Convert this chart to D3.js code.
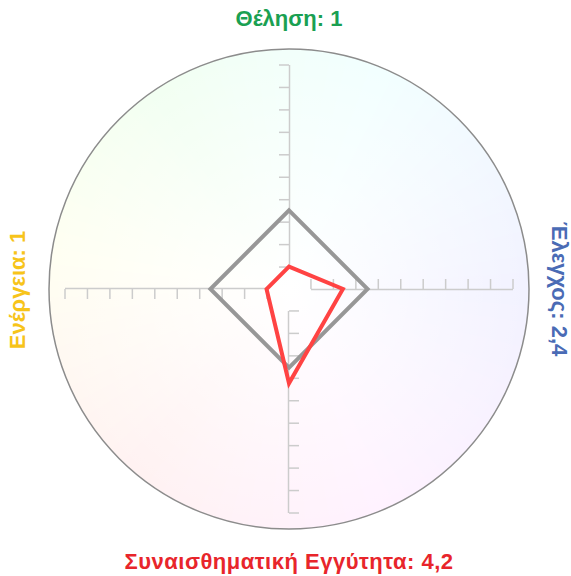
<!DOCTYPE html>
<html>
<head>
<meta charset="utf-8">
<script src="https://cdn.jsdelivr.net/npm/d3@7"></script>
<style>
	html, body { margin: 0; padding: 0; background: #fff; }
	#outer { width: 571px; height: 576px; }
	text { font-family: 'Liberation Sans', Arial, Helvetica, sans-serif; font-weight: bold; }
</style>
</head>
<body>
<div id="outer"></div>
<script>
////////// DATA //////////
const dimensions = ['Θέληση', 'Έλεγχος', 'Συναισθηματική Εγγύτητα', 'Ενέργεια'];
const scores = [1, 2.4, 4.2, 1];
const referenceScores = [3.5, 3.5, 3.5, 3.5];
const tickValues = [1, 2, 3, 4, 5, 6, 7, 8, 9, 10];
const scaleDomain = [0, 10];

  // STYLES //
const labelColors = ['#1aa052', '#4a6bb5', '#e8252b', '#f7c41a'];
const hueStops = [160, 240, 320, 410, 520];	// hue at top, right, bottom, left, top again

////////// SIZING //////////
const width = 571, height = 576;
const cx = 289, cy = 289;
const circleRadius = 240;
const axisRadius = 224.5;

const rScale = d3.scaleLinear().domain(scaleDomain).range([0, axisRadius]);
const fmt = v => String(v).replace('.', ',');

////////// RENDER //////////
const svg = d3.select('#outer').append('svg')
	.attr('width', width)
	.attr('height', height);

const defs = svg.append('defs');
const fade = defs.append('radialGradient').attr('id', 'centerFade');
fade.append('stop').attr('offset', '0%').attr('stop-color', '#fff').attr('stop-opacity', 1);
fade.append('stop').attr('offset', '100%').attr('stop-color', '#fff').attr('stop-opacity', 0);

const centered = svg.append('g').attr('transform', `translate(${cx},${cy})`);

// BACKGROUND WHEEL //
const hueScale = d3.scaleLinear().domain([0, 90, 180, 270, 360]).range(hueStops);
const steps = d3.range(0, 360, 2);
const wedge = d3.arc().innerRadius(0).outerRadius(circleRadius);
centered.append('g').attr('class', 'wheel')
	.selectAll('path')
	.data(steps)
	.join('path')
	.attr('d', a => wedge({ startAngle: a * Math.PI / 180, endAngle: (a + 2.4) * Math.PI / 180 }))
	.attr('fill', a => d3.hsl(hueScale(a + 1) % 360, 1, 0.974).formatHex());

centered.append('circle')
	.attr('r', circleRadius)
	.attr('fill', 'url(#centerFade)');

centered.append('circle')
	.attr('r', circleRadius)
	.attr('fill', 'none')
	.attr('stroke', '#8c8c8c')
	.attr('stroke-width', 1.5);

// AXES //
const axisScale = d3.scaleLinear().domain([1, 10]).range([-rScale(1), -rScale(10)]);
dimensions.forEach((dim, i) => {
	const g = centered.append('g')
		.attr('class', 'axis')
		.attr('transform', `rotate(${i * 90})`)
		.call(d3.axisLeft(axisScale).tickValues(tickValues).tickSize(10).tickSizeOuter(0).tickFormat(''));
	g.selectAll('path, line').attr('stroke', '#cccccc').attr('stroke-width', 1.5);
});

// POLYGONS //
const radial = d3.lineRadial()
	.angle((d, i) => i * Math.PI / 2)
	.radius(d => rScale(d))
	.curve(d3.curveLinearClosed);

centered.append('path')
	.attr('d', radial(referenceScores))
	.attr('fill', 'none')
	.attr('stroke', '#979797')
	.attr('stroke-width', 4);

centered.append('path')
	.attr('d', radial(scores))
	.attr('fill', 'none')
	.attr('stroke', '#ff4343')
	.attr('stroke-width', 4);

// LABELS //
const labelPos = [
	{ x: cx, y: 26, rot: 0, spacing: 0 },
	{ x: 552, y: cy, rot: 90, spacing: 0 },
	{ x: cx, y: 569, rot: 0, spacing: 0.5 },
	{ x: 25, y: cy + 1, rot: -90, spacing: 0 }
];
svg.append('g').attr('class', 'labels')
	.selectAll('text')
	.data(dimensions)
	.join('text')
	.attr('transform', (d, i) => `translate(${labelPos[i].x},${labelPos[i].y}) rotate(${labelPos[i].rot})`)
	.attr('text-anchor', 'middle')
	.attr('font-size', 22)
	.attr('letter-spacing', (d, i) => labelPos[i].spacing)
	.attr('fill', (d, i) => labelColors[i])
	.text((d, i) => `${d}: ${fmt(scores[i])}`);
</script>
</body>
</html>
